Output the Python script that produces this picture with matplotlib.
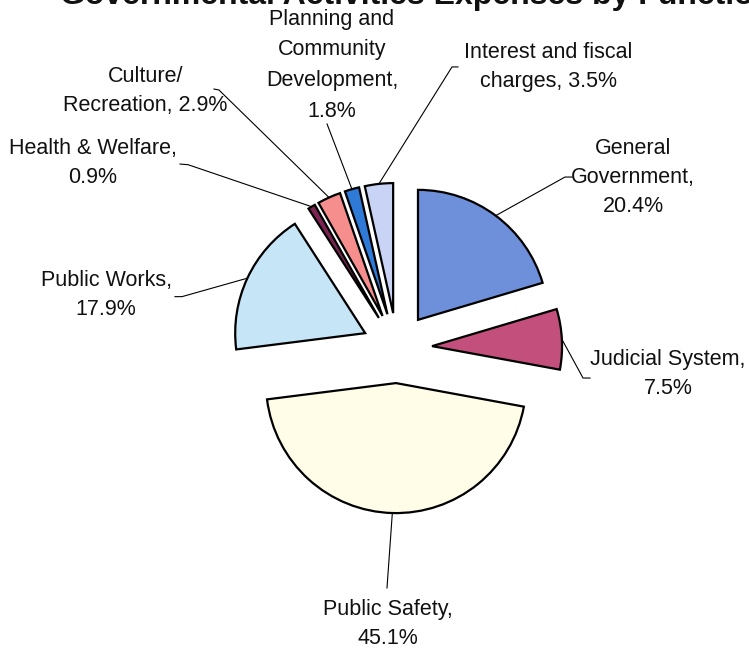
import math
import matplotlib
matplotlib.use("Agg")
import matplotlib.pyplot as plt

plt.rcParams['font.family'] = ['Liberation Sans', 'DejaVu Sans']

# expenses by function, share of total (%)
functions = ["General\nGovernment,", "Judicial System,", "Public Safety,", "Public Works,",
             "Health & Welfare,", "Culture/\nRecreation,", "Planning and\nCommunity\nDevelopment,",
             "Interest and fiscal\ncharges,"]
shares = [20.4, 7.5, 45.1, 17.9, 0.9, 2.9, 1.8, 3.5]
colors = ["#6E8FD9", "#C24F7C", "#FFFDE8", "#C6E6F8", "#7B2452", "#F78E8E", "#2E7AD6", "#C9D3F5"]
# these two put the percentage on the same line as the last word
same_line = {"Culture/\nRecreation,", "Interest and fiscal\ncharges,"}

# label text centres and leader-line start points (pie radius = 1)
label_pos = [(1.815, 1.31), (2.085, -0.20), (-0.07, -2.12), (-2.238, 0.405),
             (-2.338, 1.423), (-1.935, 1.975), (-0.5, 2.175), (1.162, 2.165)]
leader_start = [[(1.346, 1.315), (1.292, 1.315)],
                [(1.485, -0.231), (1.431, -0.231)],
                [(-0.077, -1.846)],
                [(-1.708, 0.395), (-1.654, 0.395)],
                [(-1.669, 1.415), (-1.607, 1.41)],
                [(-1.408, 1.992), (-1.37, 1.985)],
                [(-0.538, 1.723)],
                [(0.469, 2.162), (0.423, 2.162)]]
spacing = [1.5, 1.5, 1.5, 1.5, 1.5, 1.5, 1.6, 1.5]

fig = plt.figure(figsize=(7.49, 6.49), dpi=100)
ax = fig.add_axes([0, 0, 1, 1])

wedges, _ = ax.pie(shares, colors=colors, startangle=90, counterclock=False,
                   explode=[0.27] * len(shares), radius=1,
                   wedgeprops=dict(edgecolor="black", linewidth=1.6))

for w, name, val, pos, start, ls in zip(wedges, functions, shares, label_pos, leader_start, spacing):
    # leader line ends on the middle of the wedge's arc
    mid = math.radians((w.theta1 + w.theta2) / 2)
    cx, cy = w.center
    end = (cx + w.r * math.cos(mid), cy + w.r * math.sin(mid))
    pts = start + [end]
    ax.plot([p[0] for p in pts], [p[1] for p in pts], color="black", lw=0.8)
    sep = " " if name in same_line else "\n"
    ax.text(pos[0], pos[1], f"{name}{sep}{val}%",
            ha="center", va="center", multialignment="center", fontsize=15.5,
            linespacing=ls, color="#111111")

ax.text(-2.592, 2.645, "Governmental Activities Expenses by Function", ha="left", va="baseline",
        fontsize=23, fontweight="bold", color="#111111")

ax.set_xlim(-397 / 130, (749 - 397) / 130)
ax.set_ylim(-(649 - 348) / 130, 348 / 130)
ax.set_aspect("equal")
ax.axis("off")

fig.savefig("out.png", dpi=100)
